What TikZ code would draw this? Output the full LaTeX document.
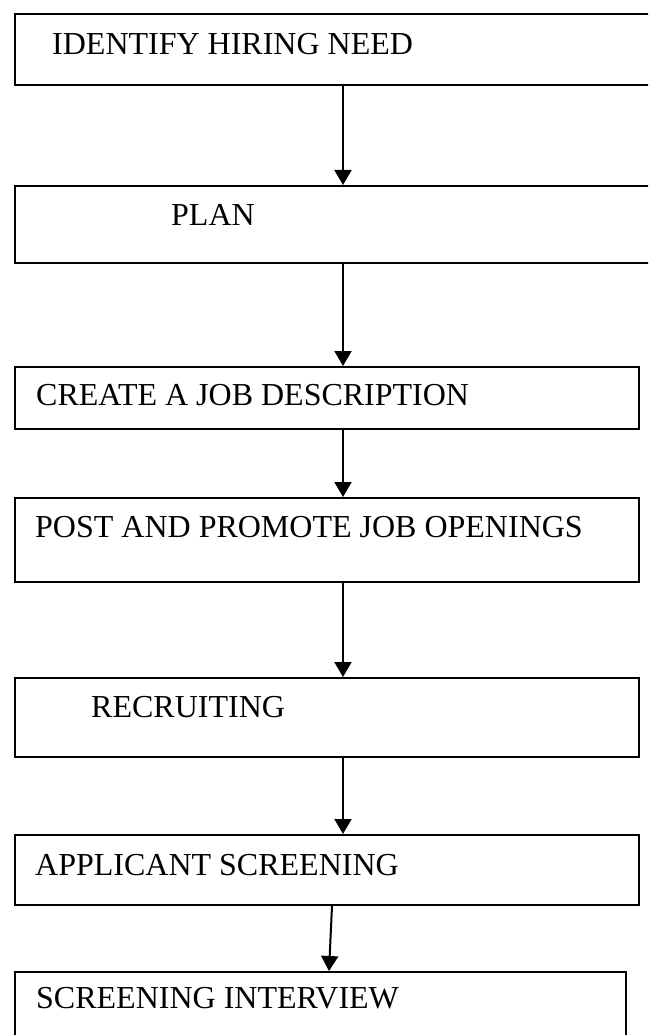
\documentclass[tikz,border=0pt]{standalone}
\usepackage{fontspec}
\setmainfont{Liberation Serif}
\usetikzlibrary{arrows.meta}
\begin{document}
\begin{tikzpicture}[x=1pt,y=-1pt,
  stepbox/.style={draw=black, line width=2pt, rectangle, inner sep=0pt, anchor=north west},
  steptext/.style={anchor=base west, inner sep=0pt, font=\fontsize{32}{36}\selectfont},
  flow/.style={draw=black, line width=2pt, -{Triangle[width=17pt,length=15pt]}}]
\useasboundingbox (0,0) rectangle (648,1035);
\clip (0,0) rectangle (648,1035);
\fill[white] (0,0) rectangle (648,1035);

% process boxes (top-left corner, width, height)
\node[stepbox, minimum width=660pt, minimum height=71pt] (b1) at (14,13)  {};
\node[stepbox, minimum width=660pt, minimum height=77pt] (b2) at (14,185) {};
\node[stepbox, minimum width=624pt, minimum height=62pt] (b3) at (14,366) {};
\node[stepbox, minimum width=624pt, minimum height=84pt] (b4) at (14,497) {};
\node[stepbox, minimum width=624pt, minimum height=79pt] (b5) at (14,677) {};
\node[stepbox, minimum width=624pt, minimum height=70pt] (b6) at (14,834) {};
\node[stepbox, minimum width=611pt, minimum height=90pt] (b7) at (14,971) {};

% labels
\node[steptext] (t1) at (52,55)   {IDENTIFY HIRING NEED};
\node[steptext] (t2) at (171,225) {PLAN};
\node[steptext] (t3) at (36,405)  {CREATE A JOB DESCRIPTION};
\node[steptext] (t4) at (35,537)  {POST AND PROMOTE JOB OPENINGS};
\node[steptext] (t5) at (91,717)  {RECRUITING};
\node[steptext] (t6) at (35,875)  {APPLICANT SCREENING};
\node[steptext] (t7) at (36,1008) {SCREENING INTERVIEW};

% connector columns
\coordinate (ax) at (343,0);
\coordinate (sx) at (332,0);
\coordinate (ex) at (329,0);

% connectors
\draw[flow] (b1.south -| ax) -- (b2.north -| ax);
\draw[flow] (b2.south -| ax) -- (b3.north -| ax);
\draw[flow] (b3.south -| ax) -- (b4.north -| ax);
\draw[flow] (b4.south -| ax) -- (b5.north -| ax);
\draw[flow] (b5.south -| ax) -- (b6.north -| ax);
\draw[flow] (b6.south -| sx) -- (b7.north -| ex);
\end{tikzpicture}
\end{document}
